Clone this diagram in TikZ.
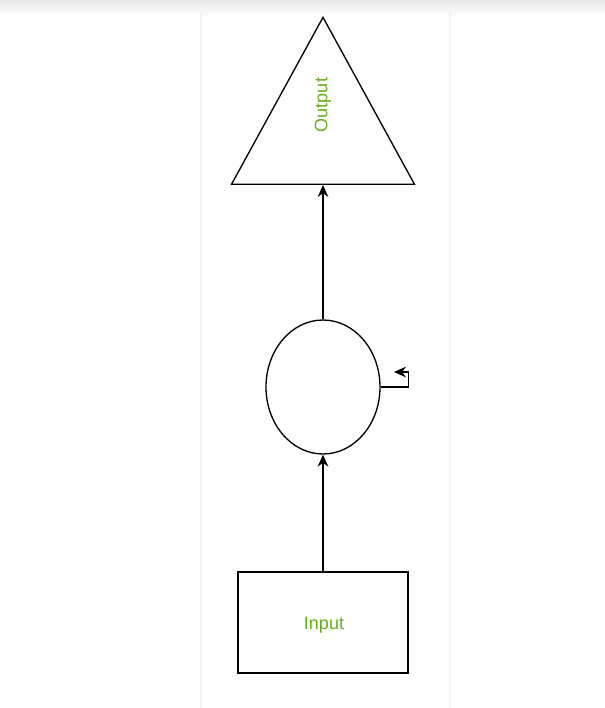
\documentclass[tikz,border=0pt]{standalone}
\usepackage{fontspec}
\setmainfont{Liberation Sans}
\usetikzlibrary{arrows.meta, shapes.geometric}

\definecolor{lblgreen}{RGB}{104,172,28}

\begin{document}
\begin{tikzpicture}[
    x=0.75pt, y=-0.75pt,
    unit/.style   = {draw, line width=1pt, inner sep=0pt},
    arrow/.style  = {-{Stealth[length=9pt, width=8pt]}, line width=1pt},
    lbltext/.style = {text=lblgreen, font=\fontsize{13.5}{15}\selectfont},
]

%% Page frame
\useasboundingbox (0,0) rectangle (605,708);
\shade[top color=black!9, bottom color=white] (0,0) rectangle (605,16);
\draw[black!5, line width=2pt] (201,12) -- (201,708);
\draw[black!5, line width=2pt] (450,12) -- (450,708);

%% Output
\node[unit, isosceles triangle, shape border rotate=90,
      isosceles triangle stretches, anchor=south,
      minimum width=137.25pt, minimum height=125.25pt] (out) at (323,185) {};
\node[lbltext, rotate=90] (outlbl) at (323,105) {Output};

%% Hidden state
\node[unit, ellipse, minimum width=85.5pt, minimum height=100.5pt] (hid) at (323,387) {};

%% Input
\node[unit, rectangle, minimum width=127.5pt, minimum height=75.75pt] (in) at (323,622.5) {};
\node[lbltext] (inlbl) at (324,625) {Input};

%% Arrows
\draw[arrow] (in.north) -- (hid.south);
\draw[arrow] (hid.north) -- (out.south);

%% Recurrent loop
\coordinate (loopend) at (394,372);
\draw[arrow] (hid.east) -- ++(28,0) |- (loopend);

\end{tikzpicture}
\end{document}
